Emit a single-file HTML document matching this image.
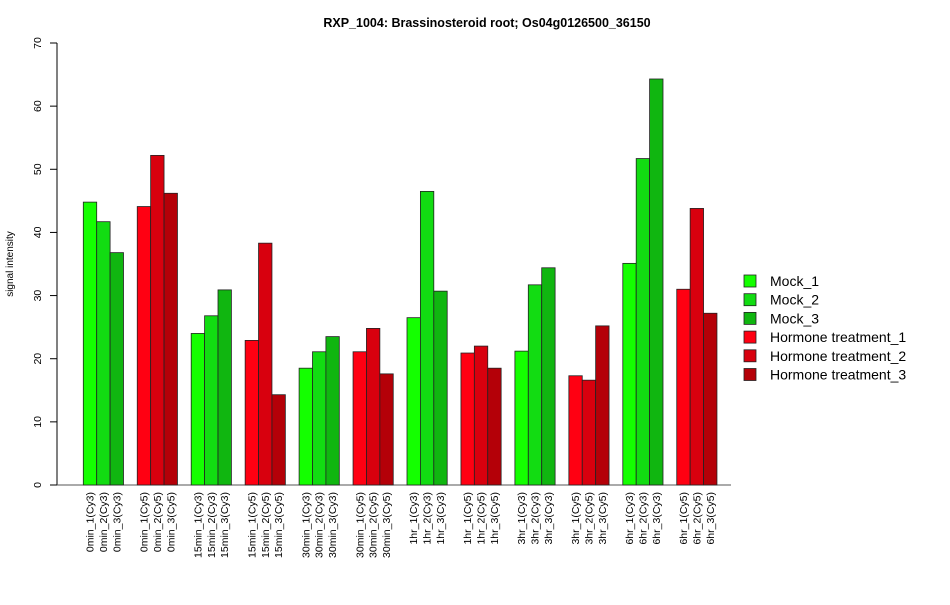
<!DOCTYPE html>
<html><head><meta charset="utf-8"><style>
body{margin:0;background:#fff}
svg text{font-family:"Liberation Sans",Arial,sans-serif}
</style></head><body>
<svg id="chart" width="950" height="600" xmlns="http://www.w3.org/2000/svg">
<text x="487" y="27" text-anchor="middle" font-size="12.5" font-weight="bold">RXP_1004: Brassinosteroid root; Os04g0126500_36150</text>
<text transform="translate(13,264) rotate(-90)" text-anchor="middle" font-size="10">signal intensity</text>
<g id="axes"></g><g id="bars"></g><g id="xlabels"></g><g id="legend"></g>
</svg>
<script>
const categories=["0min_1(Cy3)","0min_2(Cy3)","0min_3(Cy3)","0min_1(Cy5)","0min_2(Cy5)","0min_3(Cy5)","15min_1(Cy3)","15min_2(Cy3)","15min_3(Cy3)","15min_1(Cy5)","15min_2(Cy5)","15min_3(Cy5)","30min_1(Cy3)","30min_2(Cy3)","30min_3(Cy3)","30min_1(Cy5)","30min_2(Cy5)","30min_3(Cy5)","1hr_1(Cy3)","1hr_2(Cy3)","1hr_3(Cy3)","1hr_1(Cy5)","1hr_2(Cy5)","1hr_3(Cy5)","3hr_1(Cy3)","3hr_2(Cy3)","3hr_3(Cy3)","3hr_1(Cy5)","3hr_2(Cy5)","3hr_3(Cy5)","6hr_1(Cy3)","6hr_2(Cy3)","6hr_3(Cy3)","6hr_1(Cy5)","6hr_2(Cy5)","6hr_3(Cy5)"];
const values=[44.8,41.7,36.8,44.1,52.2,46.2,24.0,26.8,30.9,22.9,38.3,14.3,18.5,21.1,23.5,21.1,24.8,17.6,26.5,46.5,30.7,20.9,22.0,18.5,21.2,31.7,34.4,17.3,16.6,25.2,35.1,51.7,64.3,31.0,43.8,27.2];
const yTicks=[0,10,20,30,40,50,60,70];
const legendLabels=["Mock_1","Mock_2","Mock_3","Hormone treatment_1","Hormone treatment_2","Hormone treatment_3"];
const colors=["#14ff00","#12dc12","#10b610","#ff0012","#d8000e","#b40008"];
const NS="http://www.w3.org/2000/svg";
const y0=485,yTop=43,yMax=70;
function yS(v){return y0-(v/yMax)*(y0-yTop);}
const groupStart=83.3,groupStep=53.95,barW=13.4;
function xS(i){return groupStart+Math.floor(i/3)*groupStep+(i%3)*barW;}
function mk(tag,attrs,parent){const e=document.createElementNS(NS,tag);for(const k in attrs)e.setAttribute(k,attrs[k]);parent.appendChild(e);return e;}
const axes=document.getElementById('axes');
const ya=mk('line',{x1:57,x2:57,y1:yS(0),y2:yS(70),stroke:'#000'},axes);


yTicks.forEach(t=>{
 const l=mk('line',{x1:50,x2:57,y1:yS(t),y2:yS(t),stroke:'#000'},axes);
 
 
 const tx=mk('text',{transform:`translate(41,${yS(t)}) rotate(-90)`,'text-anchor':'middle','font-size':'10.5'},axes);
 tx.textContent=t;
 
 
});
const xa=mk('line',{x1:57,x2:731,y1:y0,y2:y0,stroke:'#555'},axes);


const bars=document.getElementById('bars'),xl=document.getElementById('xlabels');
values.forEach((v,i)=>{
 const x=xS(i);
 const r=mk('rect',{x:x,y:yS(v),width:barW,height:y0-yS(v),fill:colors[(Math.floor(i/3)%2)*3+i%3],stroke:'#222','stroke-width':'0.8'},bars);
 
 
 const t=mk('text',{transform:`translate(${x+barW/2+3.5},492) rotate(-90)`,'text-anchor':'end','font-size':'10.5'},xl);
 t.textContent=categories[i];
 
 
});
const lg=document.getElementById('legend');
legendLabels.forEach((s,i)=>{
 const yy=281+i*18.7;
 const b=mk('rect',{x:744,y:yy-6,width:12,height:12,fill:colors[i],stroke:'#222','stroke-width':'0.8'},lg);
 
 
 const t=mk('text',{x:770,y:yy+5,'font-size':'14'},lg);
 t.textContent=s;
 
 
});
</script>
</body></html>
